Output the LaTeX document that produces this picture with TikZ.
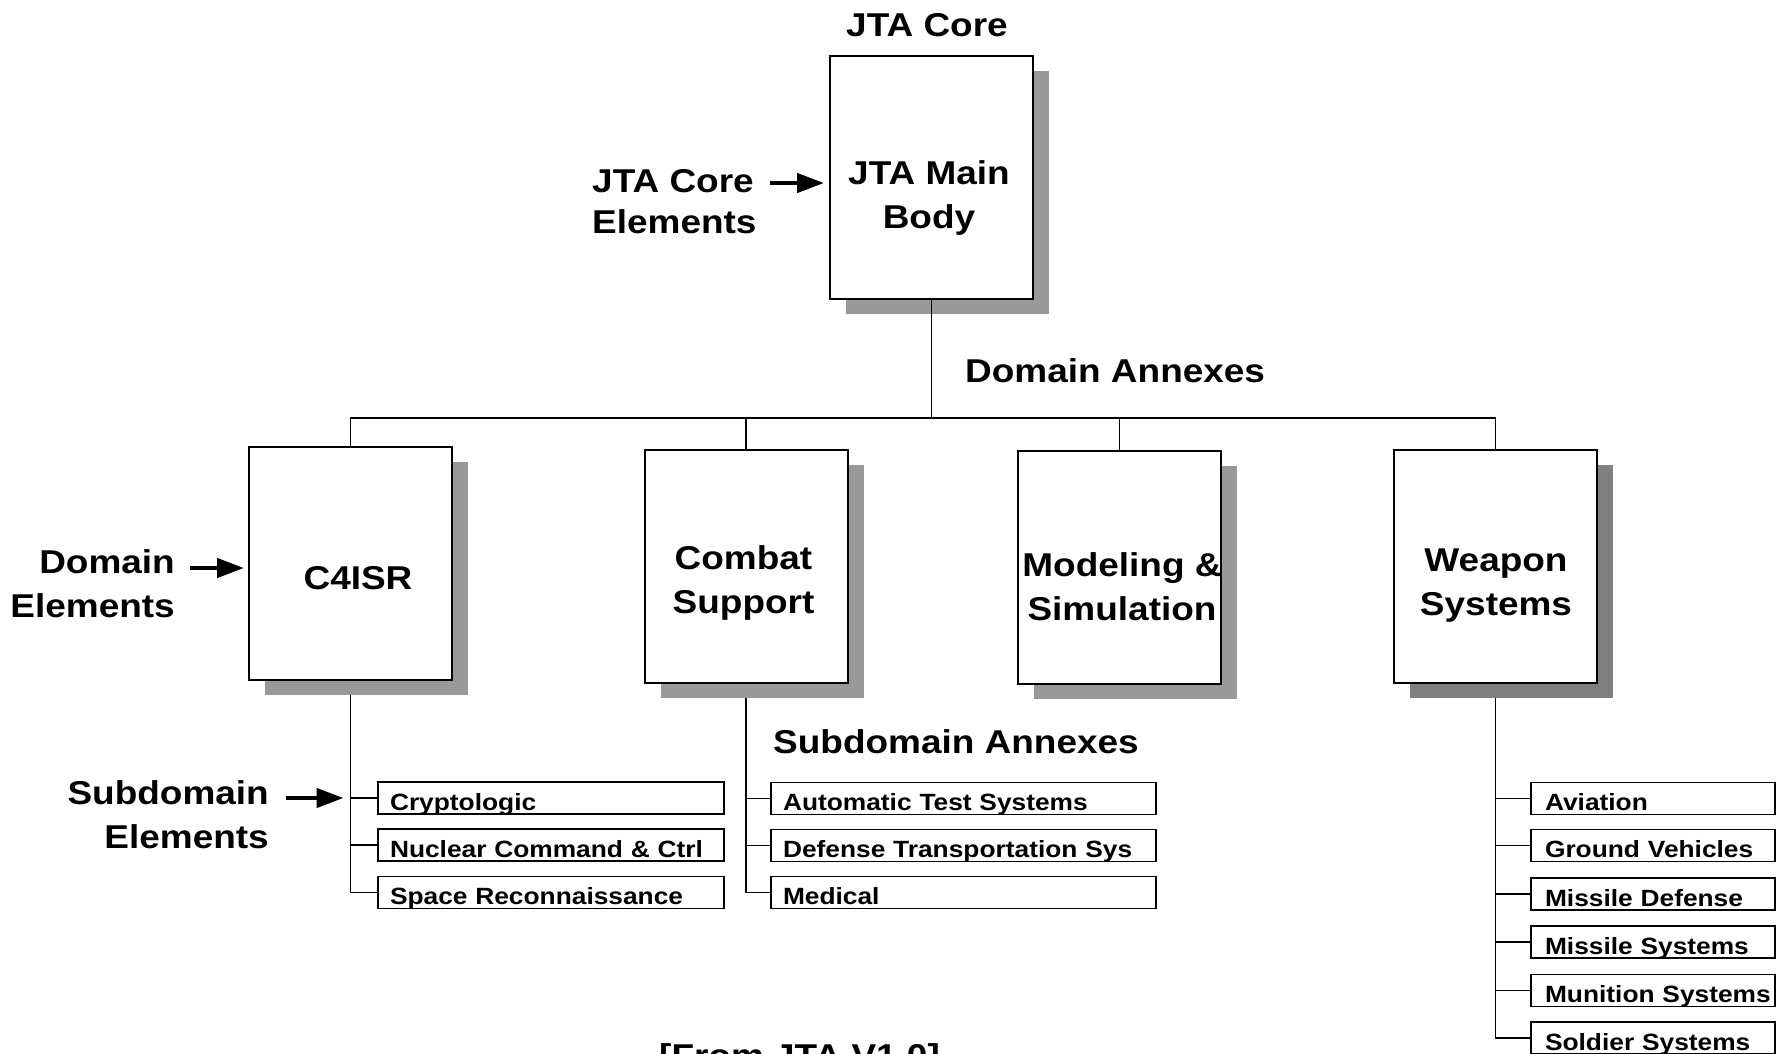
\documentclass[tikz,border=0pt]{standalone}
\usepackage{fontspec}
\setmainfont{Liberation Sans}[FakeStretch=1.12]
\usetikzlibrary{arrows.meta,shadows,backgrounds}
\begin{document}
\begin{tikzpicture}[x=1pt,y=-1pt,
  bigfont/.style={font=\fontsize{33}{44}\selectfont\bfseries},
  smallfont/.style={font=\fontsize{23.5}{28}\selectfont\bfseries},
  dombox/.style={draw=black, line width=2pt, fill=white, minimum width=203pt,
    minimum height=233pt, inner sep=0pt,
    drop shadow={shadow xshift=16pt, shadow yshift=-15pt, opacity=1, fill=#1}},
  dombox/.default=black!40,
  boxlabel/.style={bigfont, align=center, anchor=base, inner sep=0pt},
  sidelabel/.style={bigfont, inner sep=0pt},
  subbox/.style={draw=black, line width=1.8pt, fill=white, smallfont,
    minimum height=32pt, inner ysep=0pt, inner xsep=12pt, text height=24pt,
    text depth=0pt, align=left, text width=#1,
    execute at begin node={\hbox\bgroup}, execute at end node={\egroup}},
  wsub/.style={subbox=216pt, inner xsep=14pt},
  conn/.style={line width=1.7pt},
  pointer/.style={line width=4.5pt, -{Triangle[length=27pt,width=19pt]}}
]
\useasboundingbox (0,0) rectangle (1787,1053);
\clip (0,0) rectangle (1787,1053);

% main and domain boxes
\node[dombox, minimum height=243pt] (main) at (931.5,177.5) {};
\node[dombox] (c4) at (350.5,563) {};
\node[dombox] (cs) at (746,566) {};
\node[dombox] (ms) at (1119.5,567.5) {};
\node[dombox=black!50] (ws) at (1495.5,566.5) {};

% box labels (base = baseline of the last line)
\node[boxlabel] (mainlbl) at (929,228) {JTA Main\\Body};
\node[boxlabel] (c4lbl) at (358,589) {C4ISR};
\node[boxlabel] (cslbl) at (743.5,613) {Combat\\Support};
\node[boxlabel] (mslbl) at (1122,620) {Modeling \&\\Simulation};
\node[boxlabel] (wslbl) at (1496,615) {Weapon\\Systems};

% side labels
\node[boxlabel] (core) at (927,36) {JTA Core};
\node[sidelabel, align=left, anchor=base west, font=\fontsize{33}{41}\selectfont\bfseries] (jce) at (592,233) {JTA Core\\Elements};
\node[sidelabel, align=right, anchor=base east] (de) at (175,617) {Domain\\Elements};
\node[sidelabel, align=right, anchor=base east] (se) at (269,848) {Subdomain\\Elements};
\node[sidelabel, anchor=base west] (da) at (965,382) {Domain Annexes};
\node[sidelabel, anchor=base west] (sa) at (773,753) {Subdomain Annexes};
\node[sidelabel, anchor=base west] (src) at (659,1067) {[From JTA V1.0]};

% subdomain boxes
\node[subbox=322pt] (crypt) at (551,798) {Cryptologic};
\node[subbox=322pt] (nuc) at (551,845) {Nuclear Command \& Ctrl};
\node[subbox=322pt] (spc) at (551,892.5) {Space Reconnaissance};
\node[subbox=361pt] (ats) at (963.5,798.5) {Automatic Test Systems};
\node[subbox=361pt] (dts) at (963.5,845.5) {Defense Transportation Sys};
\node[subbox=361pt] (med) at (963.5,892.5) {Medical};
\node[wsub] (av) at (1653,798.5) {Aviation};
\node[wsub] (gv) at (1653,845.5) {Ground Vehicles};
\node[wsub] (md) at (1653,894) {Missile Defense};
\node[wsub] (msy) at (1653,942) {Missile Systems};
\node[wsub] (mun) at (1653,990.5) {Munition Systems};
\node[wsub] (sol) at (1653,1038) {Soldier Systems};

% connectors
\coordinate (bus) at (931.5,418);
\begin{scope}[on background layer]
  \fill[white] (0,0) rectangle (1787,1053);
  \draw[conn] (c4.north) |- (bus) -| (ws.north);
  \draw[conn] (cs.north) -- (cs.north |- bus);
  \draw[conn] (ms.north) -- (ms.north |- bus);
  \foreach \t in {crypt,nuc,spc} \draw[conn] (c4.south) |- (\t.west);
  \foreach \t in {ats,dts,med} \draw[conn] (cs.south) |- (\t.west);
  \foreach \t in {av,gv,md,msy,mun,sol} \draw[conn] (ws.south) |- (\t.west);
\end{scope}
\draw[conn] (main.south) -- (bus);

% pointer arrows
\coordinate (p1) at (770,183);
\coordinate (p2) at (190,568);
\coordinate (p3) at (286,798);
\draw[pointer, shorten >=5pt] (p1) -- (p1 -| main.west);
\draw[pointer, shorten >=4pt] (p2) -- (p2 -| c4.west);
\draw[pointer, shorten >=7pt] (p3) -- (p3 -| c4.south);
\end{tikzpicture}
\end{document}
